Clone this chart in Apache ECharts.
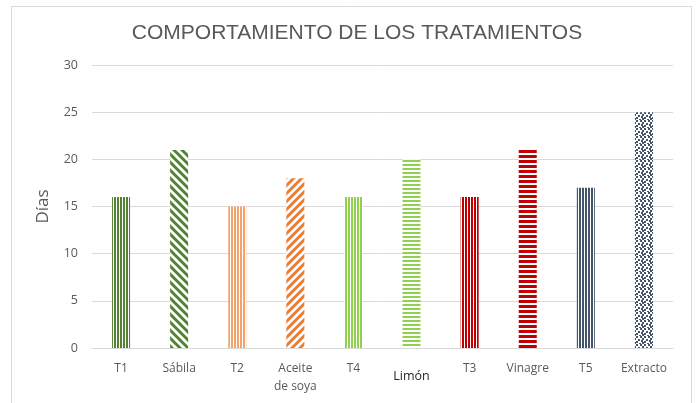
<!DOCTYPE html>
<html>
<head>
<meta charset="utf-8">
<script src="https://cdn.jsdelivr.net/npm/echarts@6/dist/echarts.min.js"></script>
<style>
html, body { margin: 0; padding: 0; background: #fff; }
#chart1 { width: 697px; height: 403px; }
</style>
</head>
<body>
<div id="chart1"></div>
<script>
var myChart = echarts.init(document.getElementById('chart1'));

// datos
var categories = ['T1', 'Sábila', 'T2', 'Aceite\nde soya', 'T4', 'Limón', 'T3', 'Vinagre', 'T5', 'Extracto'];
var dias = [16, 21, 15, 18, 16, 20, 16, 21, 17, 25];
var barColors = ['#548235', '#548235', '#F4A36C', '#ED7D31', '#92D050', '#92D050', '#C00000', '#C00000', '#44546A', '#44546A'];
var barPatterns = ['vert', 'dnDiag', 'vert', 'upDiag', 'vert', 'horiz', 'vert', 'horizWide', 'vert', 'dots'];
var yTicks = [0, 5, 10, 15, 20, 25, 30];

// tramas (patrones) para las barras
function makePattern(type, color) {
	var c = document.createElement('canvas');
	var ctx;
	if (type === 'vert') {
		c.width = 3; c.height = 3;
		ctx = c.getContext('2d');
		ctx.fillStyle = '#fff'; ctx.fillRect(0, 0, 3, 3);
		ctx.fillStyle = color; ctx.fillRect(0, 0, 2, 3);
	} else if (type === 'horiz') {
		c.width = 4; c.height = 4;
		ctx = c.getContext('2d');
		ctx.fillStyle = '#fff'; ctx.fillRect(0, 0, 4, 4);
		ctx.fillStyle = color; ctx.fillRect(0, 0, 4, 2);
	} else if (type === 'horizWide') {
		c.width = 5; c.height = 5;
		ctx = c.getContext('2d');
		ctx.fillStyle = '#fff'; ctx.fillRect(0, 0, 5, 5);
		ctx.fillStyle = color; ctx.fillRect(0, 0, 5, 3);
	} else if (type === 'dnDiag' || type === 'upDiag') {
		c.width = 8; c.height = 8;
		ctx = c.getContext('2d');
		ctx.fillStyle = '#fff'; ctx.fillRect(0, 0, 8, 8);
		ctx.strokeStyle = color; ctx.lineWidth = 3;
		ctx.beginPath();
		if (type === 'dnDiag') {
			ctx.moveTo(-4, -4); ctx.lineTo(12, 12);
			ctx.moveTo(-4, 4); ctx.lineTo(4, 12);
			ctx.moveTo(4, -4); ctx.lineTo(12, 4);
		} else {
			ctx.moveTo(-4, 12); ctx.lineTo(12, -4);
			ctx.moveTo(-4, 4); ctx.lineTo(4, -4);
			ctx.moveTo(4, 12); ctx.lineTo(12, 4);
		}
		ctx.stroke();
	} else {
		// puntos
		c.width = 8; c.height = 8;
		ctx = c.getContext('2d');
		ctx.fillStyle = '#fff'; ctx.fillRect(0, 0, 8, 8);
		ctx.fillStyle = color;
		ctx.fillRect(0, 0, 2, 2);
		ctx.fillRect(4, 0, 2, 2);
		ctx.fillRect(2, 2, 2, 2);
		ctx.fillRect(6, 3, 2, 2);
		ctx.fillRect(1, 4, 2, 2);
		ctx.fillRect(4, 5, 2, 2);
		ctx.fillRect(7, 7, 1, 1);
		ctx.fillRect(0, 7, 1, 1);
		ctx.fillRect(2, 6, 2, 2);
	}
	return { image: c, repeat: 'repeat' };
}

var barData = dias.map(function (v, i) {
	return { value: v, itemStyle: { color: makePattern(barPatterns[i], barColors[i]) } };
});

var option = {
	backgroundColor: '#fff',
	title: {
		text: 'COMPORTAMIENTO DE LOS TRATAMIENTOS',
		left: 352,
		top: 18,
		textAlign: 'center',
		textStyle: {
			fontFamily: 'Liberation Sans',
			fontWeight: 'normal',
			fontSize: 21,
			color: '#595959'
		}
	},
	graphic: [{
		type: 'rect',
		shape: { x: 11.5, y: 6.5, width: 680, height: 420 },
		style: { fill: 'none', stroke: '#d9d9d9', lineWidth: 1 },
		z: -1
	}],
	grid: { left: 92, right: 24, top: 65, bottom: 55 },
	xAxis: {
		type: 'category',
		data: categories,
		axisTick: { show: false },
		axisLine: { lineStyle: { color: '#d9d9d9' } },
		axisLabel: {
			color: '#595959',
			fontFamily: 'Open Sans',
			fontSize: 12,
			lineHeight: 18,
			margin: 12,
			interval: 0,
			formatter: function (v) {
				return v === 'Limón' ? '{l|' + v + '}' : v;
			},
			rich: {
				l: { color: '#262626', fontFamily: 'Open Sans', fontSize: 12.5, fontWeight: 500, padding: [14, 0, 0, 0] }
			}
		}
	},
	yAxis: {
		type: 'value',
		min: yTicks[0],
		max: yTicks[yTicks.length - 1],
		interval: 5,
		name: 'Días',
		nameLocation: 'middle',
		nameGap: 40,
		nameTextStyle: { color: '#595959', fontFamily: 'Open Sans', fontSize: 17 },
		axisLine: { show: false },
		axisTick: { show: false },
		axisLabel: { color: '#595959', fontFamily: 'Open Sans', fontSize: 12.5, margin: 14 },
		splitLine: { lineStyle: { color: '#d9d9d9' } }
	},
	series: [{
		name: 'Días',
		type: 'bar',
		barWidth: 18,
		data: barData
	}]
};
myChart.setOption(option);
</script>
</body>
</html>
